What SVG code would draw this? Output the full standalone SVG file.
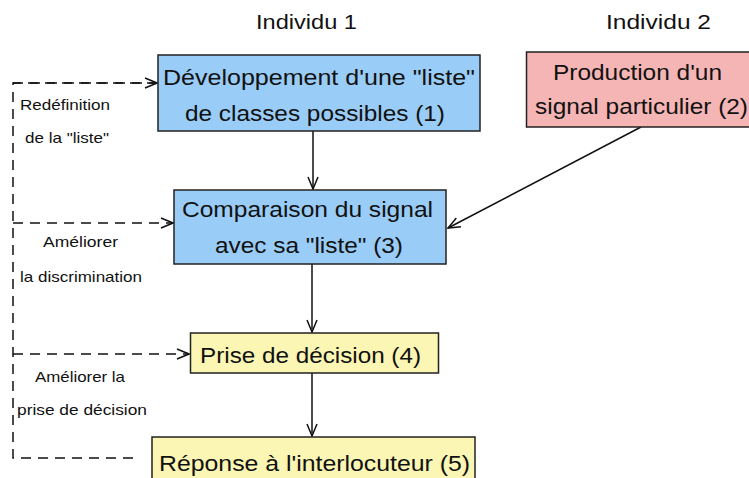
<svg xmlns="http://www.w3.org/2000/svg" width="749" height="478" viewBox="0 0 749 478">
<style>
text{font-family:"Liberation Sans",Arial,sans-serif;fill:#111}
.t{font-size:22px}
.h{font-size:21px}
.s{font-size:15px}
.box{stroke:#222;stroke-width:1.5}
.blue{fill:#99ccf6}
.pink{fill:#f5b5b5}
.yel{fill:#fbf6b3}
.c{fill:none;stroke:#111;stroke-width:1.5}
.d{fill:none;stroke:#111;stroke-width:1.5;stroke-dasharray:10 7}
</style>
<defs>
<marker id="ah" markerWidth="14" markerHeight="12" refX="13" refY="6" orient="auto" markerUnits="userSpaceOnUse">
<path d="M1,1 L13,6 L1,11" fill="none" stroke="#111" stroke-width="1.5"/>
</marker>
</defs>
<text class="h" x="256" y="29" textLength="101" lengthAdjust="spacingAndGlyphs">Individu 1</text>
<text class="h" x="606" y="29" textLength="105" lengthAdjust="spacingAndGlyphs">Individu 2</text>
<g id="connectors">
<line class="c" x1="313" y1="131" x2="313" y2="189" marker-end="url(#ah)"/>
<line class="c" x1="312" y1="264" x2="312" y2="332" marker-end="url(#ah)"/>
<line class="c" x1="312" y1="373" x2="312" y2="436" marker-end="url(#ah)"/>
<line class="c" x1="641" y1="127" x2="448" y2="228" marker-end="url(#ah)"/>
<path class="d" d="M157,83 H13 V458 H140"/>
<line class="d" x1="13" y1="83" x2="157" y2="83" marker-end="url(#ah)"/>
<line class="d" x1="13" y1="223" x2="173" y2="223" marker-end="url(#ah)"/>
<line class="d" x1="13" y1="354" x2="189" y2="354" marker-end="url(#ah)"/>
<text class="s" x="20" y="110" textLength="90" lengthAdjust="spacingAndGlyphs">Redéfinition</text>
<text class="s" x="25" y="143" textLength="84" lengthAdjust="spacingAndGlyphs">de la "liste"</text>
<text class="s" x="43" y="247" textLength="75" lengthAdjust="spacingAndGlyphs">Améliorer</text>
<text class="s" x="20" y="282" textLength="122" lengthAdjust="spacingAndGlyphs">la discrimination</text>
<text class="s" x="35" y="382" textLength="90" lengthAdjust="spacingAndGlyphs">Améliorer la</text>
<text class="s" x="17" y="415" textLength="130" lengthAdjust="spacingAndGlyphs">prise de décision</text>
</g>
<g id="n1">
<rect class="box blue" x="158" y="55" width="322" height="76"/>
<text class="t" x="163" y="85" textLength="312" lengthAdjust="spacingAndGlyphs">Développement d'une "liste"</text>
<text class="t" x="185" y="121" textLength="260" lengthAdjust="spacingAndGlyphs">de classes possibles (1)</text>
</g>
<g id="n2">
<rect class="box pink" x="526.5" y="52" width="230" height="75"/>
<text class="t" x="553" y="80" textLength="169" lengthAdjust="spacingAndGlyphs">Production d'un</text>
<text class="t" x="535" y="114" textLength="213" lengthAdjust="spacingAndGlyphs">signal particulier (2)</text>
</g>
<g id="n3">
<rect class="box blue" x="174" y="190" width="272" height="74"/>
<text class="t" x="182" y="217" textLength="251" lengthAdjust="spacingAndGlyphs">Comparaison du signal</text>
<text class="t" x="215" y="253" textLength="188" lengthAdjust="spacingAndGlyphs">avec sa "liste" (3)</text>
</g>
<g id="n4">
<rect class="box yel" x="190.5" y="333" width="248" height="40"/>
<text class="t" x="200" y="363" textLength="221" lengthAdjust="spacingAndGlyphs">Prise de décision (4)</text>
</g>
<g id="n5">
<rect class="box yel" x="152" y="437" width="323" height="50"/>
<text class="t" x="159" y="471" textLength="311" lengthAdjust="spacingAndGlyphs">Réponse à l'interlocuteur (5)</text>
</g>
</svg>
